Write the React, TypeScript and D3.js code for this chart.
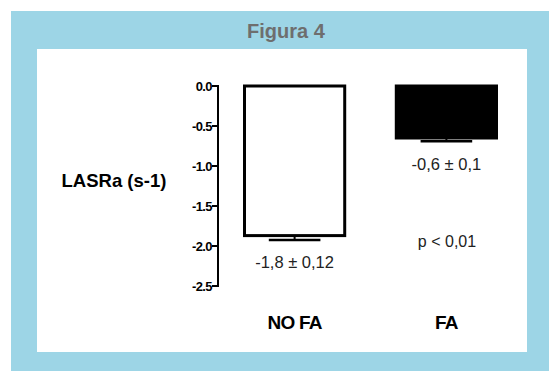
import React from "react";
import * as d3 from "d3";

const categories = ["NO FA", "FA"];
const means = [-1.87, -0.65];
const errEnds = [-1.925, -0.69];
const valueLabels = ["-1,8 ± 0,12", "-0,6 ± 0,1"];
const yTicks = [0, -0.5, -1.0, -1.5, -2.0, -2.5];
const title = "Figura 4";
const yTitle = "LASRa (s-1)";
const pText = "p < 0,01";

export default function App() {
  const W = 549, H = 371;
  const y = d3.scaleLinear().domain([0, -2.5]).range([86, 286]);
  const x = d3.scaleBand().domain(categories).range([243, 498]).paddingInner(0.32).paddingOuter(0);
  const axisX = 218;
  const font = "Liberation Sans, Arial, Helvetica, sans-serif";
  return (
    <svg width={W} height={H} style={{ position: "absolute", left: 0, top: 0 }} fontFamily={font}>
      <rect x={0} y={0} width={W} height={H} fill="#fff" />
      <rect x={11} y={11} width={W - 11} height={H - 11} fill="#9dd5e6" />
      <rect x={37} y={49} width={490} height={303} fill="#fff" />
      <text x={286} y={38} textAnchor="middle" fontSize={20} fontWeight="bold" fill="#6e6e6e">{title}</text>
      {/* y axis */}
      <line x1={axisX} x2={axisX} y1={y(0) - 1} y2={y(-2.5) + 1} stroke="#000" strokeWidth={2} />
      {yTicks.map((t) => (
        <g key={t}>
          <line x1={axisX - 6} x2={axisX} y1={y(t)} y2={y(t)} stroke="#000" strokeWidth={2} />
          <text x={axisX - 6} y={y(t) + 4.5} textAnchor="end" fontSize={13} fontWeight="bold" fill="#000" letterSpacing={-0.6}>
            {d3.format(".1f")(t).replace("−", "-")}
          </text>
        </g>
      ))}
      <text x={114} y={187} textAnchor="middle" fontSize={18.5} fontWeight="bold" fill="#000">{yTitle}</text>
      {categories.map((c, i) => {
        const bx = x(c)!;
        const bw = x.bandwidth();
        const cx = bx + bw / 2;
        const filled = i === 1;
        return (
          <g key={c}>
            <line x1={cx} x2={cx} y1={y(means[i])} y2={y(errEnds[i])} stroke="#000" strokeWidth={2} />
            <line x1={cx - bw / 4} x2={cx + bw / 4} y1={y(errEnds[i])} y2={y(errEnds[i])} stroke="#000" strokeWidth={2.5} />
            <rect x={bx + 1.5} y={y(0)} width={bw - 3} height={y(means[i]) - y(0)}
              fill={filled ? "#000" : "#fff"} stroke="#000" strokeWidth={3} />
            <text x={cx} y={filled ? 170 : 268} textAnchor="middle" fontSize={16.5} fill="#222">{valueLabels[i]}</text>
            <text x={cx} y={329} textAnchor="middle" fontSize={19} fontWeight="bold" fill="#000" letterSpacing={-0.8}>{c}</text>
          </g>
        );
      })}
      <text x={447} y={247} textAnchor="middle" fontSize={16} fill="#222">{pText}</text>
    </svg>
  );
}
